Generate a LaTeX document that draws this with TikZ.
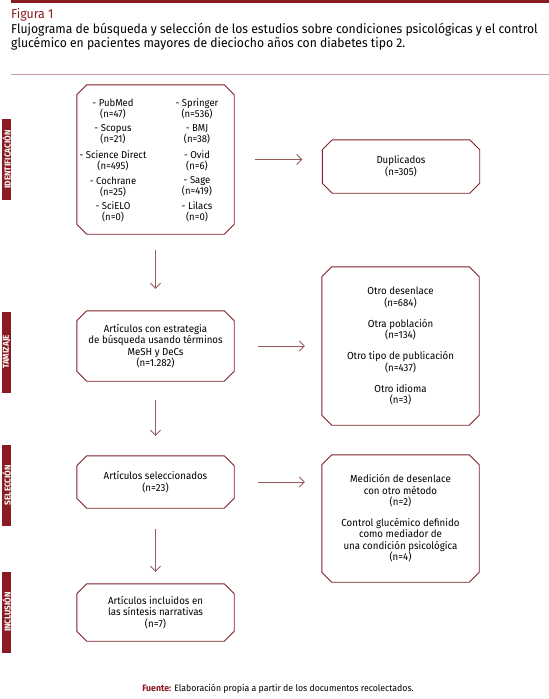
\documentclass[tikz,border=0pt]{standalone}
\usepackage{fontspec}
\setmainfont{Fira Sans}[FakeStretch=0.95]
\usetikzlibrary{arrows.meta}
\definecolor{barred}{HTML}{8A1B22}
\definecolor{boxred}{HTML}{7E1F26}
\definecolor{arrred}{HTML}{955A5A}
\definecolor{linered}{HTML}{C49A9A}
\tikzset{
  flowbox/.style={rectangle, inner sep=0pt, minimum width=157pt, align=center,
    font=\fontsize{10.2}{11.5}\selectfont},
  boxline/.style={draw=boxred, line width=0.9pt, line join=miter},
  srctext/.style={align=center, inner sep=0pt, font=\fontsize{10}{11}\selectfont},
  sidebar/.style={fill=barred, text=white, rotate=90, minimum width=81pt, minimum height=9pt,
    inner sep=0pt, font=\fontsize{8.6}{9}\selectfont\bfseries},
  arr/.style={draw=arrred, line width=0.9pt, -{Straight Barb[length=5pt,width=10pt]}}
}
\newcommand\chamfbox[1]{\draw[boxline] ([xshift=10pt]#1.north west) -- ([xshift=-10pt]#1.north east)
  -- ([yshift=-10pt]#1.north east) -- ([yshift=10pt]#1.south east) -- ([xshift=-10pt]#1.south east)
  -- ([xshift=10pt]#1.south west) -- ([yshift=10pt]#1.south west) -- ([yshift=-10pt]#1.north west) -- cycle;}
\begin{document}
\begin{tikzpicture}[x=1pt,y=-1pt]
\useasboundingbox (0,0) rectangle (549,699);
% header
\fill[barred] (11,0) rectangle (549,3);
\node[anchor=west, inner sep=0pt, text=barred, font=\fontsize{13}{14}\selectfont] (fig) at (11,14.5) {Figura 1};
\node[anchor=north west, inner sep=0pt, align=left, font=\fontsize{12.8}{12.8}\selectfont] (cap) at (11,23.5)
  {Flujograma de búsqueda y selección de los estudios sobre condiciones psicológicas y el control\\
   glucémico en pacientes mayores de dieciocho años con diabetes tipo 2.};
\draw[linered, line width=0.8pt] (11,74) -- (549,74);
% side bars
\node[sidebar] (sb1) at (6.5,159.5) {IDENTIFICACIÓN};
\node[sidebar] (sb2) at (6.5,352) {TAMIZAJE};
\node[sidebar] (sb3) at (6.5,485) {SELECCIÓN};
\node[sidebar] (sb4) at (6.5,612) {INCLUSIÓN};
% boxes
\node[flowbox, minimum height=149pt] (b1) at (155.5,159.5) {};
\node[flowbox, minimum height=53pt] (dup) at (401,166.5) {Duplicados\\(n=305)};
\node[flowbox, minimum height=70pt] (tam) at (155.5,346)
  {Artículos con estrategia\\de búsqueda usando términos\\MeSH y DeCs\\(n=1.282)};
\node[flowbox, minimum height=158pt] (ex2) at (400.5,346)
  {Otro desenlace\\(n=684)\\[9.5pt]Otra población\\(n=134)\\[9.5pt]Otro tipo de publicación\\(n=437)\\[9.5pt]Otro idioma\\(n=3)};
\node[flowbox, minimum height=52pt] (sel) at (155.5,482) {Artículos seleccionados\\(n=23)};
\node[flowbox, minimum height=127pt] (ex3) at (400.5,518.5)
  {Medición de desenlace\\con otro método\\(n=2)\\[9pt]Control glucémico definido\\como mediador de\\una condición psicológica\\(n=4)};
\node[flowbox, minimum height=57pt] (inc) at (155.5,612.5) {Artículos incluidos en\\las síntesis narrativas\\(n=7)};
\chamfbox{b1}
\chamfbox{dup}
\chamfbox{tam}
\chamfbox{ex2}
\chamfbox{sel}
\chamfbox{ex3}
\chamfbox{inc}
% sources
\node[srctext] (s1) at (113,108.5) {- PubMed\\(n=47)};
\node[srctext] (s2) at (113,134.5) {- Scopus\\(n=21)};
\node[srctext] (s3) at (113,160.5) {- Science Direct\\(n=495)};
\node[srctext] (s4) at (113,186.5) {- Cochrane\\(n=25)};
\node[srctext] (s5) at (113,211.5) {- SciELO\\(n=0)};
\node[srctext] (s6) at (197,108.5) {- Springer\\(n=536)};
\node[srctext] (s7) at (197,134.5) {- BMJ\\(n=38)};
\node[srctext] (s8) at (197,160.5) {- Ovid\\(n=6)};
\node[srctext] (s9) at (197,186.5) {- Sage\\(n=419)};
\node[srctext] (s10) at (197,211.5) {- Lilacs\\(n=0)};
% arrows
\draw[arr, shorten <=21pt, shorten >=20pt] (b1.east) -- (b1.east -| dup.west);
\draw[arr, shorten <=24pt, shorten >=17pt] (tam.east) -- (ex2.west);
\draw[arr, shorten <=24pt, shorten >=17pt] (sel.east) -- (sel.east -| ex3.west);
\draw[arr, shorten <=16pt, shorten >=22pt] (b1.south) -- (tam.north);
\draw[arr, shorten <=19pt, shorten >=20pt] (tam.south) -- (sel.north);
\draw[arr, shorten <=21pt, shorten >=12pt] (sel.south) -- (inc.north);
% source
\node[inner sep=0pt, font=\fontsize{9.2}{10}\selectfont] (src) at (278,689)
  {\textcolor{barred}{\bfseries Fuente:} Elaboración propia a partir de los documentos recolectados.};
\end{tikzpicture}
\end{document}
